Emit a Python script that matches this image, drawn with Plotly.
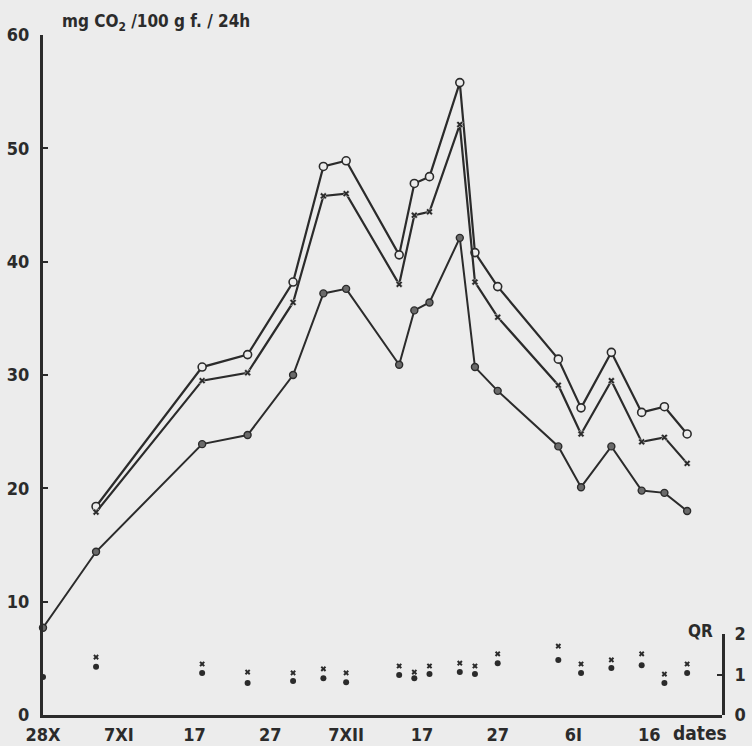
import plotly.graph_objects as go

# days counted from 28 October
days = [0, 7, 21, 27, 33, 37, 40, 47, 49, 51, 55, 57, 60, 68, 71, 75, 79, 82, 85]
tick_days = [0, 10, 20, 30, 40, 50, 60, 70, 80]
tick_labels = ["28X", "7XI", "17", "27", "7XII", "17", "27", "6I", "16"]

# mg CO2 / 100 g f. / 24h
top_series = [18.4, 30.7, 31.8, 38.2, 48.4, 48.9, 40.6, 46.9, 47.5, 55.8,
              40.8, 37.8, 31.4, 27.1, 32.0, 26.7, 27.2, 24.8]
mid_series = [17.9, 29.5, 30.2, 36.4, 45.8, 46.0, 38.0, 44.1, 44.4, 52.1,
              38.2, 35.1, 29.1, 24.8, 29.5, 24.1, 24.5, 22.2]
low_series = [7.7, 14.4, 23.9, 24.7, 30.0, 37.2, 37.6, 30.9, 35.7, 36.4,
              42.1, 30.7, 28.6, 23.7, 20.1, 23.7, 19.8, 19.6, 18.0]

# QR values
qr_cross = [1.43, 1.26, 1.06, 1.04, 1.14, 1.04, 1.21, 1.06, 1.21, 1.28,
            1.21, 1.51, 1.70, 1.26, 1.36, 1.51, 1.01, 1.26]
qr_dot = [0.94, 1.19, 1.04, 0.79, 0.84, 0.91, 0.81, 0.99, 0.91, 1.01,
          1.06, 1.01, 1.28, 1.36, 1.04, 1.16, 1.23, 0.79, 1.04]

BG = "#ececec"
INK = "#2b2b2b"
FONT = "DejaVu Sans Condensed, DejaVu Sans"

fig = go.Figure()

fig.add_trace(go.Scatter(
    x=days[1:], y=top_series, mode="lines+markers",
    line=dict(color=INK, width=2.2),
    marker=dict(symbol="circle", size=8, color=BG, line=dict(color=INK, width=1.6)),
    cliponaxis=False, showlegend=False))

fig.add_trace(go.Scatter(
    x=days[1:], y=mid_series, mode="lines+markers",
    line=dict(color=INK, width=2.2),
    marker=dict(symbol="x", size=6, color=INK, line=dict(color=BG, width=0.5)),
    cliponaxis=False, showlegend=False))

fig.add_trace(go.Scatter(
    x=days, y=low_series, mode="lines+markers",
    line=dict(color=INK, width=2),
    marker=dict(symbol="circle", size=7, color="#6a6a6a", line=dict(color=INK, width=1.4)),
    cliponaxis=False, showlegend=False))

fig.add_trace(go.Scatter(
    x=days[1:], y=qr_cross, mode="markers", yaxis="y2",
    marker=dict(symbol="x", size=5, color=INK, line=dict(width=0)),
    cliponaxis=False, showlegend=False))

fig.add_trace(go.Scatter(
    x=days, y=qr_dot, mode="markers", yaxis="y2",
    marker=dict(symbol="circle", size=6, color=INK),
    cliponaxis=False, showlegend=False))

tfont = dict(size=18, family=FONT, color=INK, weight="bold")

fig.update_layout(
    width=752, height=746,
    margin=dict(l=43, r=30, t=35, b=31, autoexpand=False),
    paper_bgcolor=BG, plot_bgcolor=BG,
    font=dict(family=FONT, color=INK),
    xaxis=dict(range=[0, 89.6], tickvals=tick_days, ticktext=tick_labels,
               ticks="inside", ticklen=5, tickwidth=2, tickcolor=INK,
               showline=True, linewidth=3, linecolor=INK,
               showgrid=False, zeroline=False, automargin=False,
               tickfont=tfont, ticklabelstandoff=1),
    yaxis=dict(range=[0, 60], dtick=10, ticks="inside", ticklen=5, tickwidth=2,
               tickcolor=INK, showline=True, linewidth=3, linecolor=INK,
               showgrid=False, zeroline=False, automargin=False,
               tickfont=tfont, ticklabelstandoff=7),
    yaxis2=dict(domain=[0, 81 / 680], range=[0, 2], tickvals=[0, 1, 2],
                side="right", anchor="x", ticks="inside", ticklen=5, tickwidth=2,
                tickcolor=INK, showline=True, linewidth=3, linecolor=INK,
                showgrid=False, zeroline=False, automargin=False,
                tickfont=tfont, ticklabelstandoff=6),
)

fig.add_annotation(text="mg CO<sub>2</sub> /100 g f. / 24h", xref="paper", yref="paper",
                   x=0.025, y=1.019, xanchor="left", yanchor="middle", showarrow=False,
                   font=dict(size=17, family=FONT, color=INK, weight="bold"))
fig.add_annotation(text="dates", xref="paper", yref="paper",
                   x=0.968, y=-0.027, xanchor="center", yanchor="middle", showarrow=False,
                   font=dict(size=19, family=FONT, color=INK, weight="bold"))
fig.add_annotation(text="QR", xref="paper", yref="paper",
                   x=0.969, y=0.124, xanchor="center", yanchor="middle", showarrow=False,
                   font=dict(size=17, family=FONT, color=INK, weight="bold"))

fig.write_html("out.html",
               config={"displayModeBar": False},
               post_script="document.body.style.margin='0';"
                           "document.body.style.background='#ececec';")
